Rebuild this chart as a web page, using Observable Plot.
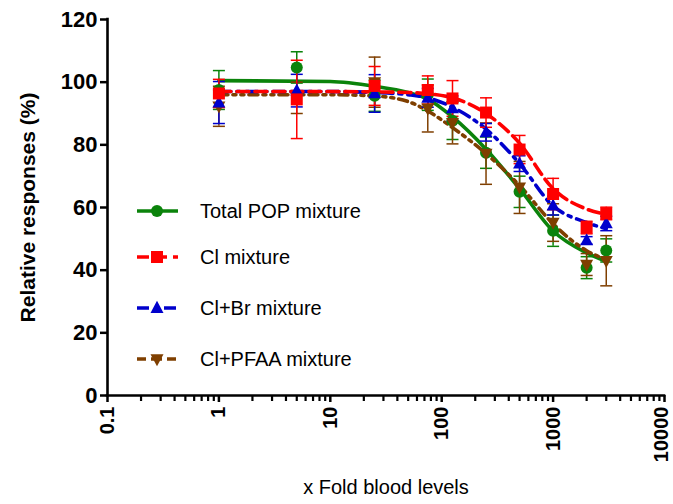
<!DOCTYPE html>
<html><head><meta charset="utf-8">
<script src="https://cdn.jsdelivr.net/npm/d3@7"></script>
<script src="https://cdn.jsdelivr.net/npm/@observablehq/plot@0.6"></script>
<style>
body{margin:0;background:#fff;}
#chart{position:relative;width:673px;height:504px;font-family:Arial,"Liberation Sans",sans-serif;}
#legend{position:absolute;left:0;top:0;pointer-events:none;}
</style></head><body><div id="chart"></div>
<script>
// ---- data ----
const doses = [1, 5, 25, 75, 125, 250, 500, 1000, 2000, 3000];
const seriesNames = ["Total POP mixture", "Cl mixture", "Cl+Br mixture", "Cl+PFAA mixture"];

const totalMean = [97.5, 104.7, 95.7, 96.0, 87.7, 77.5, 65.0, 52.6, 40.8, 46.3];
const totalSD   = [6.2, 5.0, 5.0, 5.0, 6.0, 5.0, 5.0, 5.0, 3.5, 3.7];
const clMean    = [96.4, 94.5, 98.8, 97.5, 94.8, 90.3, 78.5, 64.3, 53.6, 58.1];
const clSD      = [4.5, 12.5, 6.2, 4.5, 5.7, 4.7, 4.5, 5.0, 2.0, 2.0];
const clbrMean  = [93.5, 97.3, 96.4, 95.0, 91.6, 84.0, 74.0, 60.6, 49.5, 54.9];
const clbrSD    = [6.7, 5.2, 6.0, 3.0, 4.0, 2.8, 2.5, 3.0, 1.2, 2.3];
const pfaaMean  = [92.3, 95.0, 100.0, 91.6, 87.0, 77.2, 66.4, 55.2, 41.8, 43.0];
const pfaaSD    = [6.4, 5.0, 8.0, 7.5, 6.7, 9.8, 8.3, 6.0, 3.5, 8.0];

// fitted curves
const curveX      = [1, 10, 25, 50, 75, 125, 250, 500, 1000, 2000, 3000];
const totalCurve  = [100.5, 100.2, 98.7, 96.7, 94.6, 88.9, 78.6, 66.0, 52.5, 45.5, 42.8];
const clCurve     = [97.0, 97.0, 96.9, 96.7, 96.3, 95.0, 90.0, 80.5, 66.0, 59.5, 57.8];
const clbrCurve   = [97.0, 97.0, 96.7, 96.0, 95.0, 92.0, 85.0, 74.0, 60.5, 55.2, 53.2];
const pfaaCurve   = [96.0, 96.0, 95.6, 93.8, 90.8, 85.5, 77.2, 67.0, 54.8, 46.2, 43.4];

const xTicks = [0.1, 1, 10, 100, 1000, 10000];
const xTickLabels = ["0.1", "1", "10", "100", "1000", "10000"];
const yTicks = [0, 20, 40, 60, 80, 100, 120];
const xTitle = "x Fold blood levels";
const yTitle = "Relative responses (%)";

// ---- symbols ----
const capSym = {draw(c, s){const r = Math.sqrt(s/Math.PI); c.moveTo(-r,0); c.lineTo(r,0);}};
const squareSym = {draw(c, s){const r = Math.sqrt(s/Math.PI); c.rect(-r,-r,2*r,2*r);}};
const circleSym = {draw(c, s){const r = Math.sqrt(s/Math.PI); c.moveTo(r,0); c.arc(0,0,r,0,2*Math.PI);}};
const triUpSym = {draw(c, s){const r = Math.sqrt(s/Math.PI); c.moveTo(0,-1.1*r); c.lineTo(r,0.75*r); c.lineTo(-r,0.75*r); c.closePath();}};
const triDownSym = {draw(c, s){const r = Math.sqrt(s/Math.PI); c.moveTo(0,1.1*r); c.lineTo(r,-0.75*r); c.lineTo(-r,-0.75*r); c.closePath();}};

const series = [
  {name: seriesNames[0], mean: totalMean, sd: totalSD, curve: totalCurve, color: "#0b830b", dash: null, sym: circleSym, r: 6},
  {name: seriesNames[1], mean: clMean, sd: clSD, curve: clCurve, color: "#ff0000", dash: "12,6", sym: squareSym, r: 6},
  {name: seriesNames[2], mean: clbrMean, sd: clbrSD, curve: clbrCurve, color: "#0000cc", dash: "12,6,3,6", sym: triUpSym, r: 6.5},
  {name: seriesNames[3], mean: pfaaMean, sd: pfaaSD, curve: pfaaCurve, color: "#7f3f00", dash: "9,5,3,5,3,5", sym: triDownSym, r: 6.5}
];
const drawOrder = [0, 3, 2, 1];

const marks = [];
// curves
for (const k of drawOrder) {
  const s = series[k];
  const pts = curveX.map((x, i) => ({x, y: s.curve[i]}));
  marks.push(Plot.line(pts, {x: "x", y: "y", stroke: s.color, strokeWidth: 3.6, strokeDasharray: s.dash, curve: "monotone-x"}));
}
// error bars + markers
for (const k of drawOrder) {
  const s = series[k];
  const pts = doses.map((x, i) => ({x, y: s.mean[i], lo: s.mean[i] - s.sd[i], hi: s.mean[i] + s.sd[i]}));
  marks.push(Plot.ruleX(pts, {x: "x", y1: "lo", y2: "hi", stroke: s.color, strokeWidth: 1.5}));
  marks.push(Plot.dot(pts, {x: "x", y: "lo", symbol: capSym, r: 6, stroke: s.color, strokeWidth: 1.5, fill: "none"}));
  marks.push(Plot.dot(pts, {x: "x", y: "hi", symbol: capSym, r: 6, stroke: s.color, strokeWidth: 1.5, fill: "none"}));
}
for (const k of drawOrder) {
  const s = series[k];
  const pts = doses.map((x, i) => ({x, y: s.mean[i]}));
  marks.push(Plot.dot(pts, {x: "x", y: "y", symbol: s.sym, r: s.r, fill: s.color, stroke: "none"}));
}

// minor ticks on the log axis
const minorTicks = [];
for (let d = 0.1; d < 10000; d *= 10) for (let m = 2; m <= 9; m++) minorTicks.push(+(d*m).toPrecision(3));

const lastTick = xTicks[xTicks.length - 1];
const fmtX = d => d === lastTick ? "" : xTickLabels[xTicks.indexOf(d)];
const xAxisStyle = {tickSize: 7, tickPadding: 4, tickRotate: -90, tickFormat: fmtX, fontSize: 20, fontWeight: "bold", strokeWidth: 2.5, label: null};

marks.push(
  Plot.axisX(minorTicks, {tickSize: 6, tickFormat: () => "", strokeWidth: 2.2, label: null}),
  Plot.axisX(xTicks, xAxisStyle),
  Plot.axisX([lastTick], {...xAxisStyle, tickSize: 0, tickPadding: 11, tickFormat: d => xTickLabels[xTicks.indexOf(d)], dx: -3}),
  Plot.axisY(yTicks, {tickSize: 7, tickPadding: 3, fontSize: 22, fontWeight: "bold", strokeWidth: 2.5, label: null}),
  Plot.ruleY([0], {strokeWidth: 2.6, strokeLinecap: "square"}),
  Plot.ruleX([0.1], {strokeWidth: 2.6, strokeLinecap: "square"}),
  Plot.text([yTitle], {text: d => d, frameAnchor: "left", textAnchor: "middle", dx: -79, rotate: -90, fontSize: 21, fontWeight: "bold"}),
  Plot.text([xTitle], {text: d => d, frameAnchor: "bottom", textAnchor: "middle", lineAnchor: "middle", dy: 92, fontSize: 20})
);

const chart = Plot.plot({
  width: 673, height: 504,
  marginLeft: 107, marginRight: 9, marginTop: 19, marginBottom: 109,
  style: {background: "white", fontFamily: "Arial, 'Liberation Sans', sans-serif", color: "black", overflow: "visible"},
  x: {type: "log", domain: [0.1, 10000]},
  y: {domain: [0, 120]},
  marks
});
document.getElementById("chart").appendChild(chart);

// ---- legend (inside the plot area) ----
const legendRows = [211, 257, 308, 359];
const lg = d3.select("#chart").append("svg").attr("id", "legend").attr("width", 673).attr("height", 504);
series.forEach((s, i) => {
  const g = lg.append("g").attr("transform", `translate(0,${legendRows[i]})`);
  g.append("line").attr("x1", 137).attr("x2", 178).attr("y1", 0).attr("y2", 0)
    .attr("stroke", s.color).attr("stroke-width", 3.6).attr("stroke-dasharray", s.dash);
  g.append("path").attr("transform", "translate(157,0)")
    .attr("d", d3.symbol(s.sym, Math.PI * s.r * s.r)()).attr("fill", s.color);
  g.append("text").attr("x", 200).attr("y", 0).attr("dy", "0.35em")
    .attr("font-size", 20).attr("fill", "black").text(s.name);
});
</script></body></html>
